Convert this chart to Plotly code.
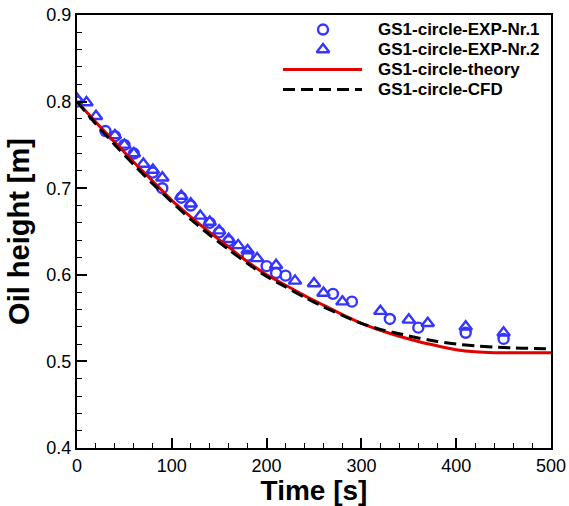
import plotly.graph_objects as go

# ---------------- data ----------------
t_exp1 = [0, 30, 40, 50, 60, 80, 90, 110, 120, 140, 150, 160, 180, 200, 210, 220,
          270, 290, 330, 360, 410, 450]
h_exp1 = [0.800, 0.766, 0.760, 0.750, 0.740, 0.718, 0.700, 0.689, 0.680, 0.660, 0.649,
          0.639, 0.622, 0.610, 0.602, 0.599, 0.578, 0.569, 0.549, 0.539, 0.533, 0.526]

t_exp2 = [0, 10, 20, 40, 50, 60, 70, 80, 90, 110, 120, 130, 140, 150, 160, 170, 180,
          190, 210, 230, 250, 260, 280, 320, 350, 370, 410, 450]
h_exp2 = [0.803, 0.799, 0.783, 0.761, 0.750, 0.740, 0.728, 0.721, 0.712, 0.691, 0.682,
          0.668, 0.661, 0.651, 0.641, 0.634, 0.628, 0.619, 0.611, 0.593, 0.590, 0.579,
          0.569, 0.558, 0.548, 0.544, 0.540, 0.533]

t_curve = [0, 20, 40, 60, 80, 100, 120, 140, 160, 180, 200, 220, 240, 260, 280, 300,
           320, 340, 360, 380, 400, 420, 440, 460, 480, 500]
h_theory = [0.800, 0.776, 0.753, 0.730, 0.708, 0.686, 0.667, 0.649, 0.632, 0.615, 0.600,
            0.588, 0.576, 0.565, 0.554, 0.544, 0.536, 0.529, 0.523, 0.518, 0.5135,
            0.511, 0.510, 0.510, 0.510, 0.510]
h_cfd = [0.800, 0.774, 0.750, 0.727, 0.705, 0.684, 0.664, 0.646, 0.629, 0.613, 0.598,
         0.586, 0.574, 0.563, 0.553, 0.544, 0.537, 0.532, 0.527, 0.523, 0.520, 0.518,
         0.5165, 0.5155, 0.515, 0.5145]

series_names = ["GS1-circle-EXP-Nr.1", "GS1-circle-EXP-Nr.2",
                "GS1-circle-theory", "GS1-circle-CFD"]

BLUE = "#3535ff"
RED = "#e00000"
FONT = "Liberation Sans, Arial, sans-serif"

fig = go.Figure()

fig.add_trace(go.Scatter(x=t_exp1, y=h_exp1, mode="markers", name=series_names[0],
                         marker=dict(symbol="circle-open", size=10, color=BLUE,
                                     line=dict(width=2.4, color=BLUE))))
fig.add_trace(go.Scatter(x=t_exp2, y=h_exp2, mode="markers", name=series_names[1],
                         marker=dict(symbol="triangle-up-open", size=11, color=BLUE,
                                     line=dict(width=2.4, color=BLUE))))
fig.add_trace(go.Scatter(x=t_curve, y=h_theory, mode="lines", name=series_names[2],
                         line=dict(color=RED, width=3, shape="spline", smoothing=0.6)))
fig.add_trace(go.Scatter(x=t_curve, y=h_cfd, mode="lines", name=series_names[3],
                         line=dict(color="black", width=3, dash="12px,6px",
                                   shape="spline", smoothing=0.6)))

# ---------- custom legend (keys drawn on an overlay axis in [0,1]) ----------
leg_rows = [0.9665, 0.9203, 0.8741, 0.8279]
key_x = 0.519
line_x0, line_x1 = 0.4346, 0.6013
text_x = 0.6329

fig.add_trace(go.Scatter(x=[key_x], y=[leg_rows[0]], xaxis="x2", yaxis="y2", mode="markers",
                         showlegend=False, hoverinfo="skip",
                         marker=dict(symbol="circle-open", size=10, color=BLUE,
                                     line=dict(width=2.4, color=BLUE))))
fig.add_trace(go.Scatter(x=[key_x], y=[leg_rows[1]], xaxis="x2", yaxis="y2", mode="markers",
                         showlegend=False, hoverinfo="skip",
                         marker=dict(symbol="triangle-up-open", size=11, color=BLUE,
                                     line=dict(width=2.4, color=BLUE))))
fig.add_trace(go.Scatter(x=[line_x0, line_x1], y=[leg_rows[2]] * 2, xaxis="x2", yaxis="y2",
                         mode="lines", showlegend=False, hoverinfo="skip",
                         line=dict(color=RED, width=3)))
fig.add_trace(go.Scatter(x=[line_x0, line_x1], y=[leg_rows[3]] * 2, xaxis="x2", yaxis="y2",
                         mode="lines", showlegend=False, hoverinfo="skip",
                         line=dict(color="black", width=3, dash="12px,6px")))

for name, yy in zip(series_names, leg_rows):
    fig.add_annotation(x=text_x, y=yy, xref="paper", yref="paper", text="<b>%s</b>" % name,
                       showarrow=False, xanchor="left", yanchor="middle", height=17,
                       borderpad=0,
                       font=dict(family=FONT, size=17, color="black"))

axis_common = dict(
    showgrid=False, zeroline=False, showline=True, linecolor="black", linewidth=2,
    mirror=True, ticks="inside", ticklen=10, tickwidth=1.5, tickcolor="black",
    tickfont=dict(family=FONT, size=18, color="black"), automargin=False,
)

fig.update_layout(
    width=569, height=506,
    margin=dict(l=77, r=18, t=15, b=58),
    paper_bgcolor="white", plot_bgcolor="white",
    showlegend=False,
    xaxis=dict(range=[0, 500], dtick=100, tick0=0,
               minor=dict(dtick=20, ticks="inside", ticklen=5, tickwidth=1, tickcolor="black"),
               title=dict(text="<b>Time [s]</b>", standoff=4,
                          font=dict(family=FONT, size=28, color="black")),
               **axis_common),
    yaxis=dict(range=[0.4, 0.9], dtick=0.1, tick0=0.4, tickformat=".1f",
               minor=dict(dtick=0.02, ticks="inside", ticklen=5, tickwidth=1, tickcolor="black"),
               title=dict(text="<b>Oil height [m]</b>", standoff=8,
                          font=dict(family=FONT, size=29, color="black")),
               **axis_common),
    xaxis2=dict(range=[0, 1], overlaying="x", visible=False, fixedrange=True),
    yaxis2=dict(range=[0, 1], overlaying="y", visible=False, fixedrange=True),
)

fig.write_html("out.html")
